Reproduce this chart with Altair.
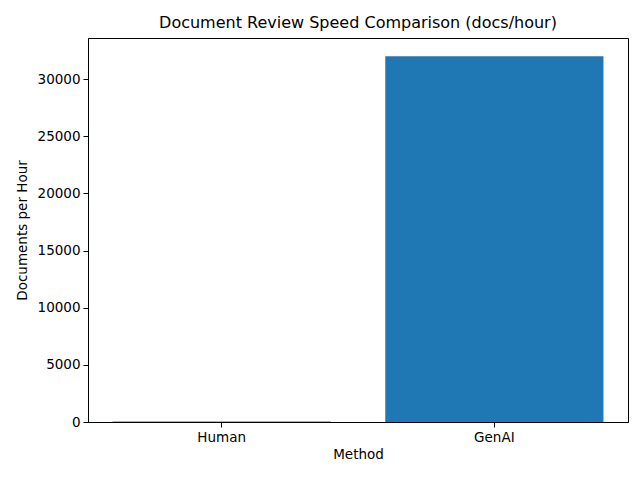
import altair as alt
import pandas as pd

methods = ["Human", "GenAI"]
docs_per_hour = [50, 32000]

df = pd.DataFrame({"Method": methods, "Docs": docs_per_hour})

font = "DejaVu Sans"

chart = alt.Chart(df).mark_bar(color="#1f77b4").encode(
    x=alt.X("Method:N", sort=methods,
            scale=alt.Scale(paddingInner=0.2, paddingOuter=0.09),
            axis=alt.Axis(title="Method", labelAngle=0, tickSize=5, labelPadding=3,
                          titlePadding=4, domainColor="black", tickColor="black",
                          labelColor="black", titleColor="black", labelFontSize=13.5,
                          titleFontSize=13.5, titleFontWeight="normal", labelFont=font,
                          titleFont=font, grid=False)),
    y=alt.Y("Docs:Q", scale=alt.Scale(domain=[0, 33600], nice=False),
            axis=alt.Axis(title="Documents per Hour", values=[0, 5000, 10000, 15000, 20000, 25000, 30000],
                          format="d", tickSize=5, labelPadding=3, titlePadding=8,
                          domainColor="black", tickColor="black", labelColor="black",
                          titleColor="black", labelFontSize=13.5, titleFontSize=13.5,
                          titleFontWeight="normal", labelFont=font, titleFont=font, grid=False)),
).properties(
    width=540, height=384,
    title=alt.TitleParams("Document Review Speed Comparison (docs/hour)", font=font,
                          fontSize=16, fontWeight="normal", color="black", offset=7),
    autosize=alt.AutoSizeParams(type="none"),
    padding={"left": 80, "top": 30, "right": 4, "bottom": 50},
).configure_view(stroke="black", strokeWidth=1)

chart.save("out.html", embed_options={"renderer": "svg", "actions": False})
